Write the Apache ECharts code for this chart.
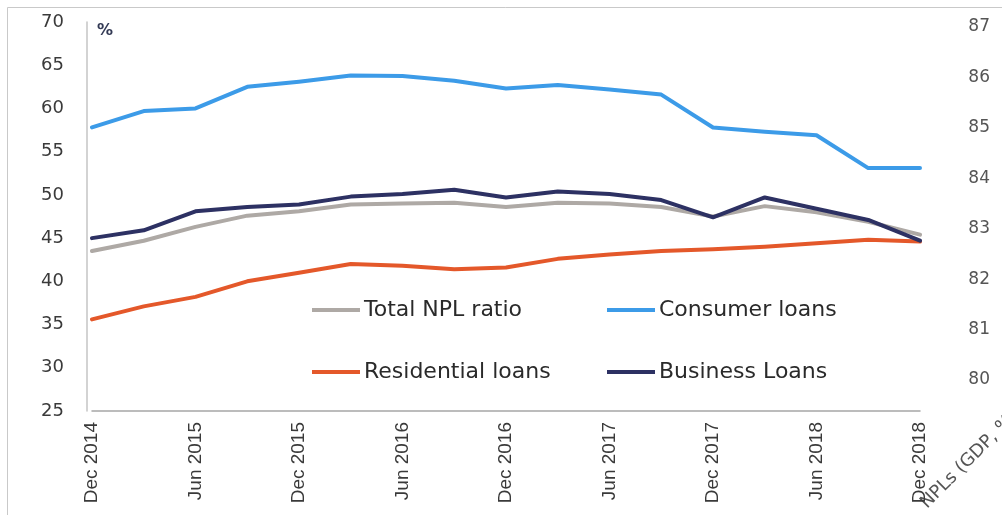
<!DOCTYPE html>
<html>
<head>
<meta charset="utf-8">
<script src="https://cdn.jsdelivr.net/npm/echarts@6/dist/echarts.min.js"></script>
<style>
  html, body { margin: 0; padding: 0; background: #fff; }
  #chart { width: 1002px; height: 515px; }
</style>
</head>
<body>
<div id="chart"></div>
<script>
// Quarterly NPL ratios, Dec 2014 – Dec 2018 (%)
const quarters = [
  'Dec 2014', 'Mar 2015', 'Jun 2015', 'Sep 2015', 'Dec 2015', 'Mar 2016',
  'Jun 2016', 'Sep 2016', 'Dec 2016', 'Mar 2017', 'Jun 2017', 'Sep 2017',
  'Dec 2017', 'Mar 2018', 'Jun 2018', 'Sep 2018', 'Dec 2018'
];
const totalNPL = [43.5, 44.7, 46.3, 47.6, 48.1, 48.9, 49.0, 49.1, 48.6, 49.1, 49.0, 48.6, 47.5, 48.7, 48.0, 46.9, 45.4];
const consumerLoans = [57.8, 59.7, 60.0, 62.5, 63.1, 63.8, 63.75, 63.2, 62.3, 62.7, 62.2, 61.6, 57.8, 57.3, 56.9, 53.1, 53.1];
const residentialLoans = [35.6, 37.1, 38.2, 40.0, 41.0, 42.0, 41.8, 41.4, 41.6, 42.6, 43.1, 43.5, 43.7, 44.0, 44.4, 44.8, 44.6];
const businessLoans = [45.0, 45.9, 48.1, 48.6, 48.9, 49.8, 50.1, 50.6, 49.7, 50.4, 50.1, 49.4, 47.4, 49.7, 48.4, 47.1, 44.7];

// Secondary scale of the adjoining panel
const rightTicks = { min: 80, max: 87, step: 1 };
const rightAxisName = 'NPLs (GDP, %)';

const COLORS = {
  total: '#aea9a5',
  consumer: '#3c9be8',
  residential: '#e4582a',
  business: '#2d3163'
};
const FONT = '"DejaVu Sans", sans-serif';

const chart = echarts.init(document.getElementById('chart'), null, { renderer: 'canvas' });

function lineSeries(name, data, color, z) {
  return {
    name: name,
    type: 'line',
    data: data,
    xAxisIndex: 0,
    yAxisIndex: 0,
    symbol: 'none',
    smooth: false,
    z: z,
    lineStyle: { color: color, width: 4, cap: 'round', join: 'round' },
    itemStyle: { color: color }
  };
}

function legendAt(name, left, top) {
  return {
    data: [name],
    left: left,
    top: top,
    orient: 'horizontal',
    icon: 'rect',
    itemWidth: 48,
    itemHeight: 4,
    padding: 0,
    selectedMode: false,
    textStyle: { fontFamily: FONT, fontSize: 22, color: '#2a2a2a', padding: [0, 0, 0, -1] }
  };
}

chart.setOption({
  animation: false,
  backgroundColor: '#ffffff',
  grid: [
    { left: 92, right: 82, top: 22, bottom: 104, containLabel: false },
    { left: 998, width: 100, top: 27, bottom: 135, containLabel: false }
  ],
  xAxis: [
    {
      gridIndex: 0,
      type: 'category',
      data: quarters,
      boundaryGap: false,
      axisLine: { show: true, lineStyle: { color: '#a6a6a6', width: 1.5 } },
      axisTick: { show: false },
      axisLabel: {
        interval: 1,
        rotate: 90,
        margin: 11,
        fontFamily: '"Liberation Sans", Arial, sans-serif',
        fontSize: 19,
        color: '#3a3a3a'
      },
      splitLine: { show: false }
    },
    {
      gridIndex: 1,
      type: 'category',
      data: [''],
      show: false
    }
  ],
  yAxis: [
    {
      gridIndex: 0,
      type: 'value',
      min: 25,
      max: 70,
      interval: 5,
      offset: 5,
      axisLine: { show: true, lineStyle: { color: '#c4c4c4', width: 1.5 } },
      axisTick: { show: false },
      splitLine: { show: false },
      axisLabel: { margin: 23, fontFamily: FONT, fontSize: 18, color: '#3a3a3a' }
    },
    {
      gridIndex: 1,
      type: 'value',
      position: 'left',
      min: rightTicks.min,
      max: rightTicks.max,
      interval: rightTicks.step,
      axisLine: { show: false },
      axisTick: { show: false },
      splitLine: { show: false },
      axisLabel: { margin: 8, fontFamily: FONT, fontSize: 17, color: '#555555' }
    }
  ],
  legend: [
    legendAt('Total NPL ratio', 312, 299),
    legendAt('Consumer loans', 607, 299),
    legendAt('Residential loans', 312, 361),
    legendAt('Business Loans', 607, 361)
  ],
  graphic: [
    {
      type: 'rect',
      silent: true,
      shape: { x: 7.5, y: 7.5, width: 1100, height: 600 },
      style: { fill: 'none', stroke: '#c9c9c9', lineWidth: 1 },
      z: -10
    },
    {
      type: 'text',
      left: 97,
      top: 23,
      silent: true,
      style: { text: '%', fontFamily: FONT, fontSize: 16, fontWeight: 'bold', fill: '#333a55' }
    },
    {
      type: 'text',
      x: 930,
      y: 512,
      rotation: Math.PI / 4,
      silent: true,
      style: { text: rightAxisName, fontFamily: FONT, fontSize: 18, fill: '#555555', textVerticalAlign: 'bottom' }
    }
  ],
  series: [
    lineSeries('Total NPL ratio', totalNPL, COLORS.total, 2),
    lineSeries('Residential loans', residentialLoans, COLORS.residential, 3),
    lineSeries('Consumer loans', consumerLoans, COLORS.consumer, 4),
    lineSeries('Business Loans', businessLoans, COLORS.business, 5)
  ]
});
</script>
</body>
</html>
